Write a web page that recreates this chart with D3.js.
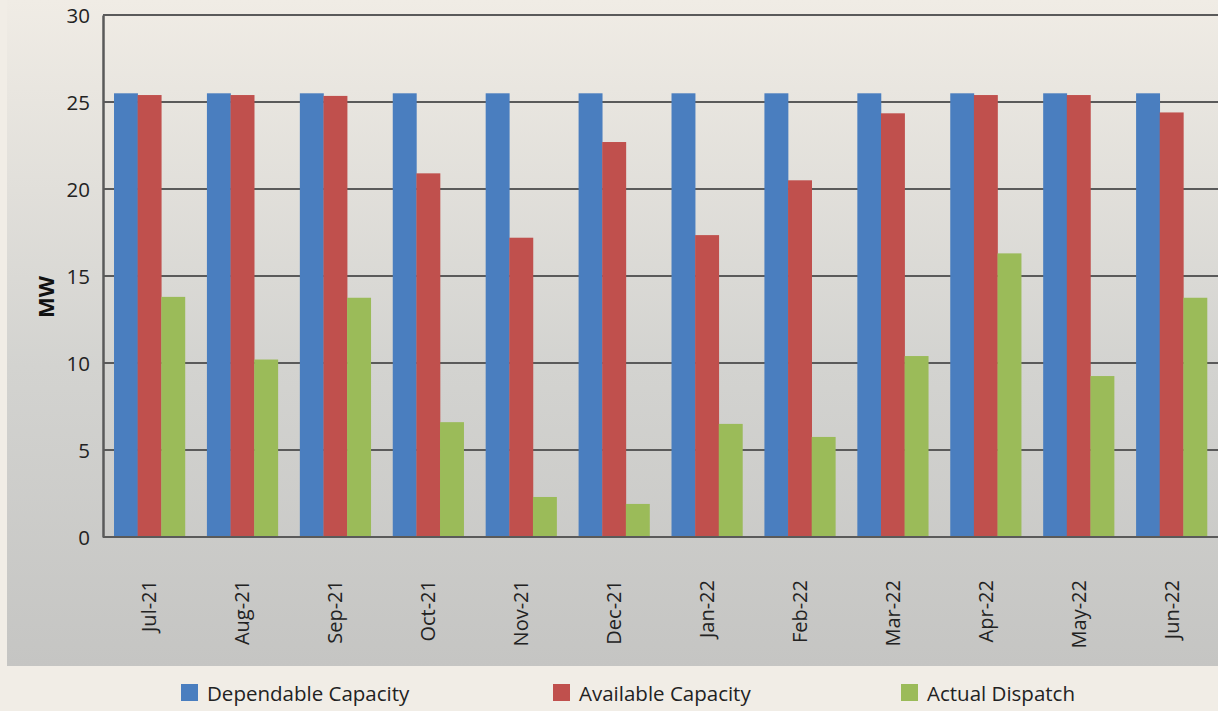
<!DOCTYPE html>
<html>
<head>
<meta charset="utf-8">
<script src="https://cdn.jsdelivr.net/npm/d3@7/dist/d3.min.js"></script>
<style>
  html, body { margin: 0; padding: 0; background: #f1ede6; }
  svg { display: block; }
  text { font-family: "Open Sans", "Noto Sans", sans-serif; fill: #222; }
</style>
</head>
<body>
<svg id="chart" width="1218" height="711"></svg>
<script>
const months = ["Jul-21","Aug-21","Sep-21","Oct-21","Nov-21","Dec-21","Jan-22","Feb-22","Mar-22","Apr-22","May-22","Jun-22"];
const seriesNames = ["Dependable Capacity","Available Capacity","Actual Dispatch"];
const dependable = [25.5,25.5,25.5,25.5,25.5,25.5,25.5,25.5,25.5,25.5,25.5,25.5];
const available  = [25.4,25.4,25.35,20.9,17.2,22.7,17.35,20.5,24.35,25.4,25.4,24.4];
const dispatch   = [13.8,10.2,13.75,6.6,2.3,1.9,6.5,5.75,10.4,16.3,9.25,13.75];
const yTicks = [0,5,10,15,20,25,30];
const colors = ["#4a7ebf","#c0504d","#9bbb59"];

const svg = d3.select("#chart");
const W = 1218, H = 711;
const pLeft = 103, pRight = 1218, pTop = 15, pBottom = 537;

// background panel gradient
const defs = svg.append("defs");
const grad = defs.append("linearGradient").attr("id","bg").attr("x1",0).attr("y1",0).attr("x2",0).attr("y2",1);
grad.append("stop").attr("offset","0%").attr("stop-color","#f0ece5");
grad.append("stop").attr("offset","55%").attr("stop-color","#d3d3d0");
grad.append("stop").attr("offset","100%").attr("stop-color","#c5c5c3");
svg.append("rect").attr("x",0).attr("y",0).attr("width",W).attr("height",H).attr("fill","#f1ede6");
svg.append("rect").attr("x",7).attr("y",0).attr("width",W-7).attr("height",666).attr("fill","url(#bg)");

const y = d3.scaleLinear().domain([0,30]).range([pBottom, pTop]);
const x0 = d3.scaleBand().domain(months).range([pLeft, pRight]).paddingInner(0.237).paddingOuter(0.1185);
const x1 = d3.scaleBand().domain(seriesNames).range([0, x0.bandwidth()]);

// gridlines
svg.append("g").selectAll("line").data(yTicks.filter(d => d > 0)).join("line")
  .attr("x1", pLeft).attr("x2", W).attr("y1", d => y(d)).attr("y2", d => y(d))
  .attr("stroke","#5a5a5a").attr("stroke-width",2);

// bars
const data = months.map((m,i) => ({m, vals:[dependable[i], available[i], dispatch[i]]}));
const g = svg.append("g");
data.forEach(d => {
  g.selectAll(null).data(d.vals.map((v,k)=>({k,v}))).join("rect")
    .attr("x", e => x0(d.m) + x1(seriesNames[e.k]))
    .attr("width", x1.bandwidth() + 0.3)
    .attr("y", e => y(e.v))
    .attr("height", e => y(0) - y(e.v))
    .attr("fill", e => colors[e.k]);
});

// y axis
const yAxis = d3.axisLeft(y).tickValues(yTicks).tickSize(0).tickPadding(13);
const ya = svg.append("g").attr("transform",`translate(${pLeft},0)`).call(yAxis);
ya.select(".domain").attr("stroke","#5a5a5a").attr("stroke-width",2.5);
ya.selectAll("text").style("font-size","20.5px").style("fill","#222").attr("dy","0.36em");

// x axis baseline
svg.append("line").attr("x1",pLeft).attr("x2",W).attr("y1",y(0)).attr("y2",y(0))
  .attr("stroke","#5a5a5a").attr("stroke-width",2);

// x labels
const xAxis = d3.axisBottom(x0).tickSize(0);
const xa = svg.append("g").attr("transform",`translate(0,${pBottom})`).call(xAxis);
xa.select(".domain").remove();
xa.selectAll("text")
  .style("font-size","20px").style("fill","#222")
  .attr("text-anchor","end")
  .attr("transform","translate(7,43) rotate(-90)")
  .attr("x",0).attr("y",0).attr("dy","0");

// y title
svg.append("text").attr("transform","translate(54,297) rotate(-90)")
  .attr("text-anchor","middle").style("font-size","22px").style("font-weight","bold").style("fill","#111")
  .text("MW");

// legend
const legX = [181, 553, 901];
const lg = svg.append("g");
seriesNames.forEach((s,i) => {
  lg.append("rect").attr("x",legX[i]).attr("y",684).attr("width",17).attr("height",17).attr("fill",colors[i]);
  lg.append("text").attr("x",legX[i]+26).attr("y",701).style("font-size","20.5px").style("fill","#222").text(s);
});
</script>
</body>
</html>
